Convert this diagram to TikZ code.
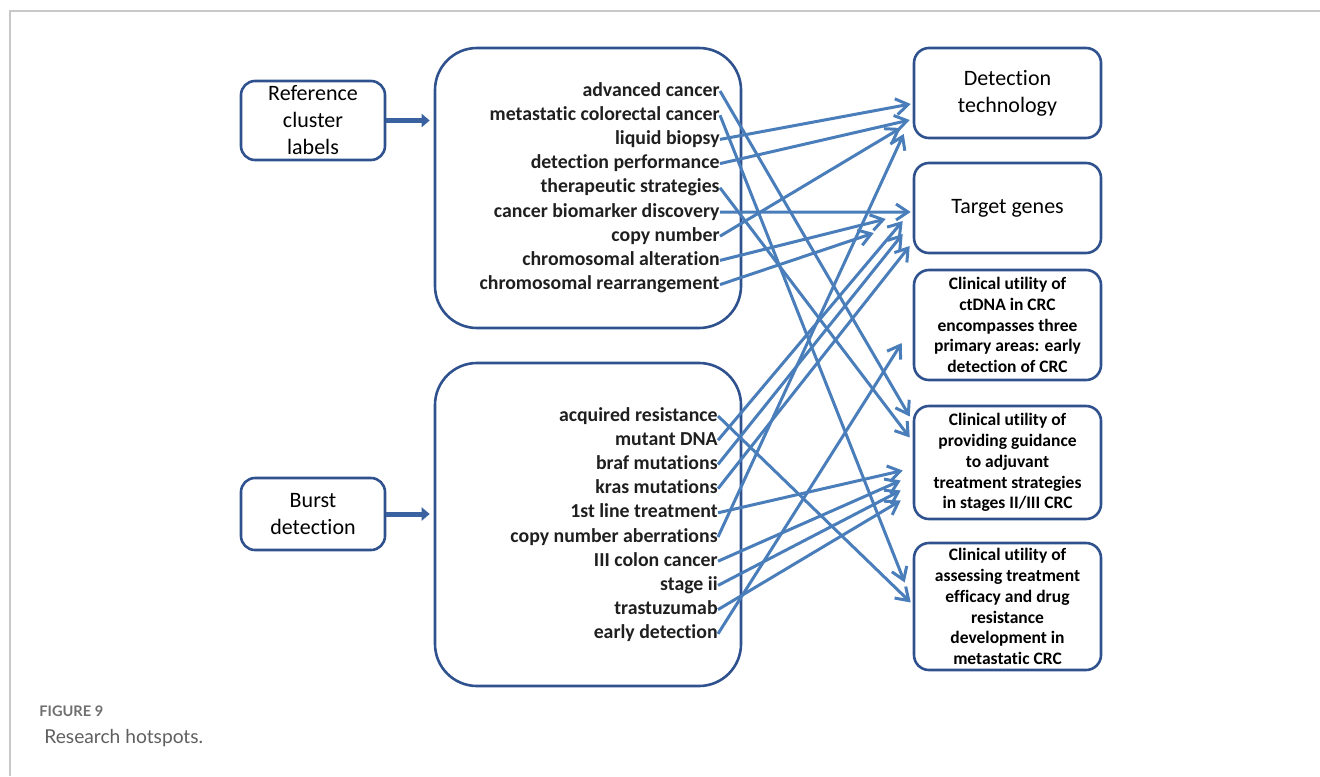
\documentclass[tikz,border=0pt]{standalone}
\usepackage{fontspec}
\setmainfont{Carlito}[Ligatures=NoCommon]
\newfontfamily\capfont{Lato}
\usetikzlibrary{arrows.meta,calc}
\definecolor{boxblue}{RGB}{47,82,143}
\definecolor{feedblue}{RGB}{58,98,160}
\definecolor{linkblue}{RGB}{74,126,187}
\definecolor{framegray}{RGB}{200,200,200}
\definecolor{capgray}{RGB}{95,95,95}
\tikzset{
  srcbox/.style ={draw=boxblue,line width=1.3pt,rounded corners=7pt,minimum width=72pt,align=center,inner sep=0pt,font=\fontsize{11}{13.5}\selectfont},
  bigbox/.style ={draw=boxblue,line width=1.3pt,rounded corners=21pt,minimum width=153pt,inner sep=0pt},
  goalbox/.style={draw=boxblue,line width=1.3pt,rounded corners=7.5pt,minimum width=93.5pt,align=center,inner sep=0pt},
  goalbig/.style ={font=\fontsize{11}{13.5}\selectfont},
  goalsmall/.style={font=\bfseries\fontsize{8.75}{10.45}\selectfont},
  term/.style   ={anchor=east,inner sep=0pt,text height=7pt,text depth=2pt,font=\bfseries\fontsize{9.9}{12}\selectfont,text=black!88},
  feed/.style   ={draw=feedblue,line width=2.5pt,-{Triangle[length=4pt,width=6.5pt]}},
  link/.style   ={draw=linkblue,line width=1.5pt,-{Straight Barb[length=6pt,width=8pt]}},
}
\begin{document}
\begin{tikzpicture}[x=0.5pt,y=-0.5pt]
  \useasboundingbox (0,0) rectangle (1320,776);
  \draw[framegray,line width=0.75pt] (10,776) -- (10,11) -- (1320,11);
  % sources
  \node[srcbox,minimum height=39.5pt](ref) at (313,120.5){Reference\\cluster\\labels};
  \node[srcbox,minimum height=36pt](burst) at (313,514){Burst\\detection};
  \node[bigbox,minimum height=140pt](top) at (588,188){};
  \node[bigbox,minimum height=161.5pt](bot) at (588,524.5){};
  \draw[feed](ref.east) -- ([xshift=-2pt]ref -| top.west);
  \draw[feed](burst.east) -- ([xshift=-2pt]burst -| bot.west);
  % terms
  \foreach \txt [count=\i] in {advanced cancer,metastatic colorectal cancer,liquid biopsy,detection performance,therapeutic strategies,cancer biomarker discovery,copy number,chromosomal alteration,chromosomal rearrangement}
    \node[term](t\i) at (720,{66.8+24.2*\i}){\txt};
  \foreach \txt [count=\i] in {acquired resistance,mutant DNA,braf mutations,kras mutations,1st line treatment,copy number aberrations,III colon cancer,stage ii,trastuzumab,early detection}
    \node[term](b\i) at (718,{391.8+24.2*\i}){\txt};
  % goals
  \node[goalbox,goalbig,minimum height=45pt](dt) at (1007.5,93){Detection\\technology};
  \node[goalbox,goalbig,minimum height=45pt](tg) at (1007.5,208){Target genes};
  \node[goalbox,goalsmall,minimum height=55pt](cu1) at (1007.5,325){Clinical utility of\\ctDNA in CRC\\encompasses three\\primary areas: early\\detection of CRC};
  \node[goalbox,goalsmall,minimum height=56.5pt](cu2) at (1007.5,462.5){Clinical utility of\\providing guidance\\to adjuvant\\treatment strategies\\in stages II/III CRC};
  \node[goalbox,goalsmall,minimum height=63.5pt](cu3) at (1007.5,606.5){Clinical utility of\\assessing treatment\\efficacy and drug\\resistance\\development in\\metastatic CRC};
  % arrow tips
  \coordinate (dtA) at ($(dt.west)+(-2,11)$);   \coordinate (dtB) at ($(dt.west)+(-3,27)$);
  \coordinate (dtC) at ($(dt.west)+(-12,35)$);  \coordinate (dtD) at ($(dt.west)+(-9,41)$);
  \coordinate (tgA) at ($(tg.west)+(-2,4)$);    \coordinate (tgB) at ($(tg.west)+(-27,11)$);
  \coordinate (tgC) at ($(tg.west)+(-39,25)$);  \coordinate (tgD) at ($(tg.west)+(-10,13)$);
  \coordinate (tgE) at ($(tg.west)+(-10,26)$);  \coordinate (tgF) at ($(tg.west)+(-3,38)$);
  \coordinate (cu1A) at ($(cu1.west)+(-11,18)$);
  \coordinate (cu2A) at ($(cu2.west)+(-3,-46)$); \coordinate (cu2B) at ($(cu2.west)+(-3,-25)$);
  \coordinate (cu2C) at ($(cu2.west)+(-10,8)$);  \coordinate (cu2D) at ($(cu2.west)+(-12,18)$);
  \coordinate (cu2E) at ($(cu2.west)+(-12,28)$); \coordinate (cu2F) at ($(cu2.west)+(-12,38)$);
  \coordinate (cu3A) at ($(cu3.west)+(-8,-24)$); \coordinate (cu3B) at ($(cu3.west)+(-2,-4)$);
  \foreach \a/\b in {t1/cu2A,t2/cu3A,t3/dtA,t4/dtB,t5/cu2B,t6/tgA,t7/dtC,t8/tgB,t9/tgC,b1/cu3B,b2/tgD,b3/tgE,b4/tgF,b5/cu2C,b6/dtD,b7/cu2D,b8/cu2E,b9/cu2F,b10/cu1A}
    \draw[link](\a.east) -- (\b);
  % caption
  \node[anchor=west,inner sep=0pt,text=capgray!90,font=\capfont\bfseries\fontsize{7.3}{8}\selectfont](fig) at (39,711){FIGURE 9};
  \node[anchor=west,inner sep=0pt,text=capgray,font=\capfont\fontsize{9.6}{11}\selectfont](cap) at (44,738){Research hotspots.};
\end{tikzpicture}
\end{document}
